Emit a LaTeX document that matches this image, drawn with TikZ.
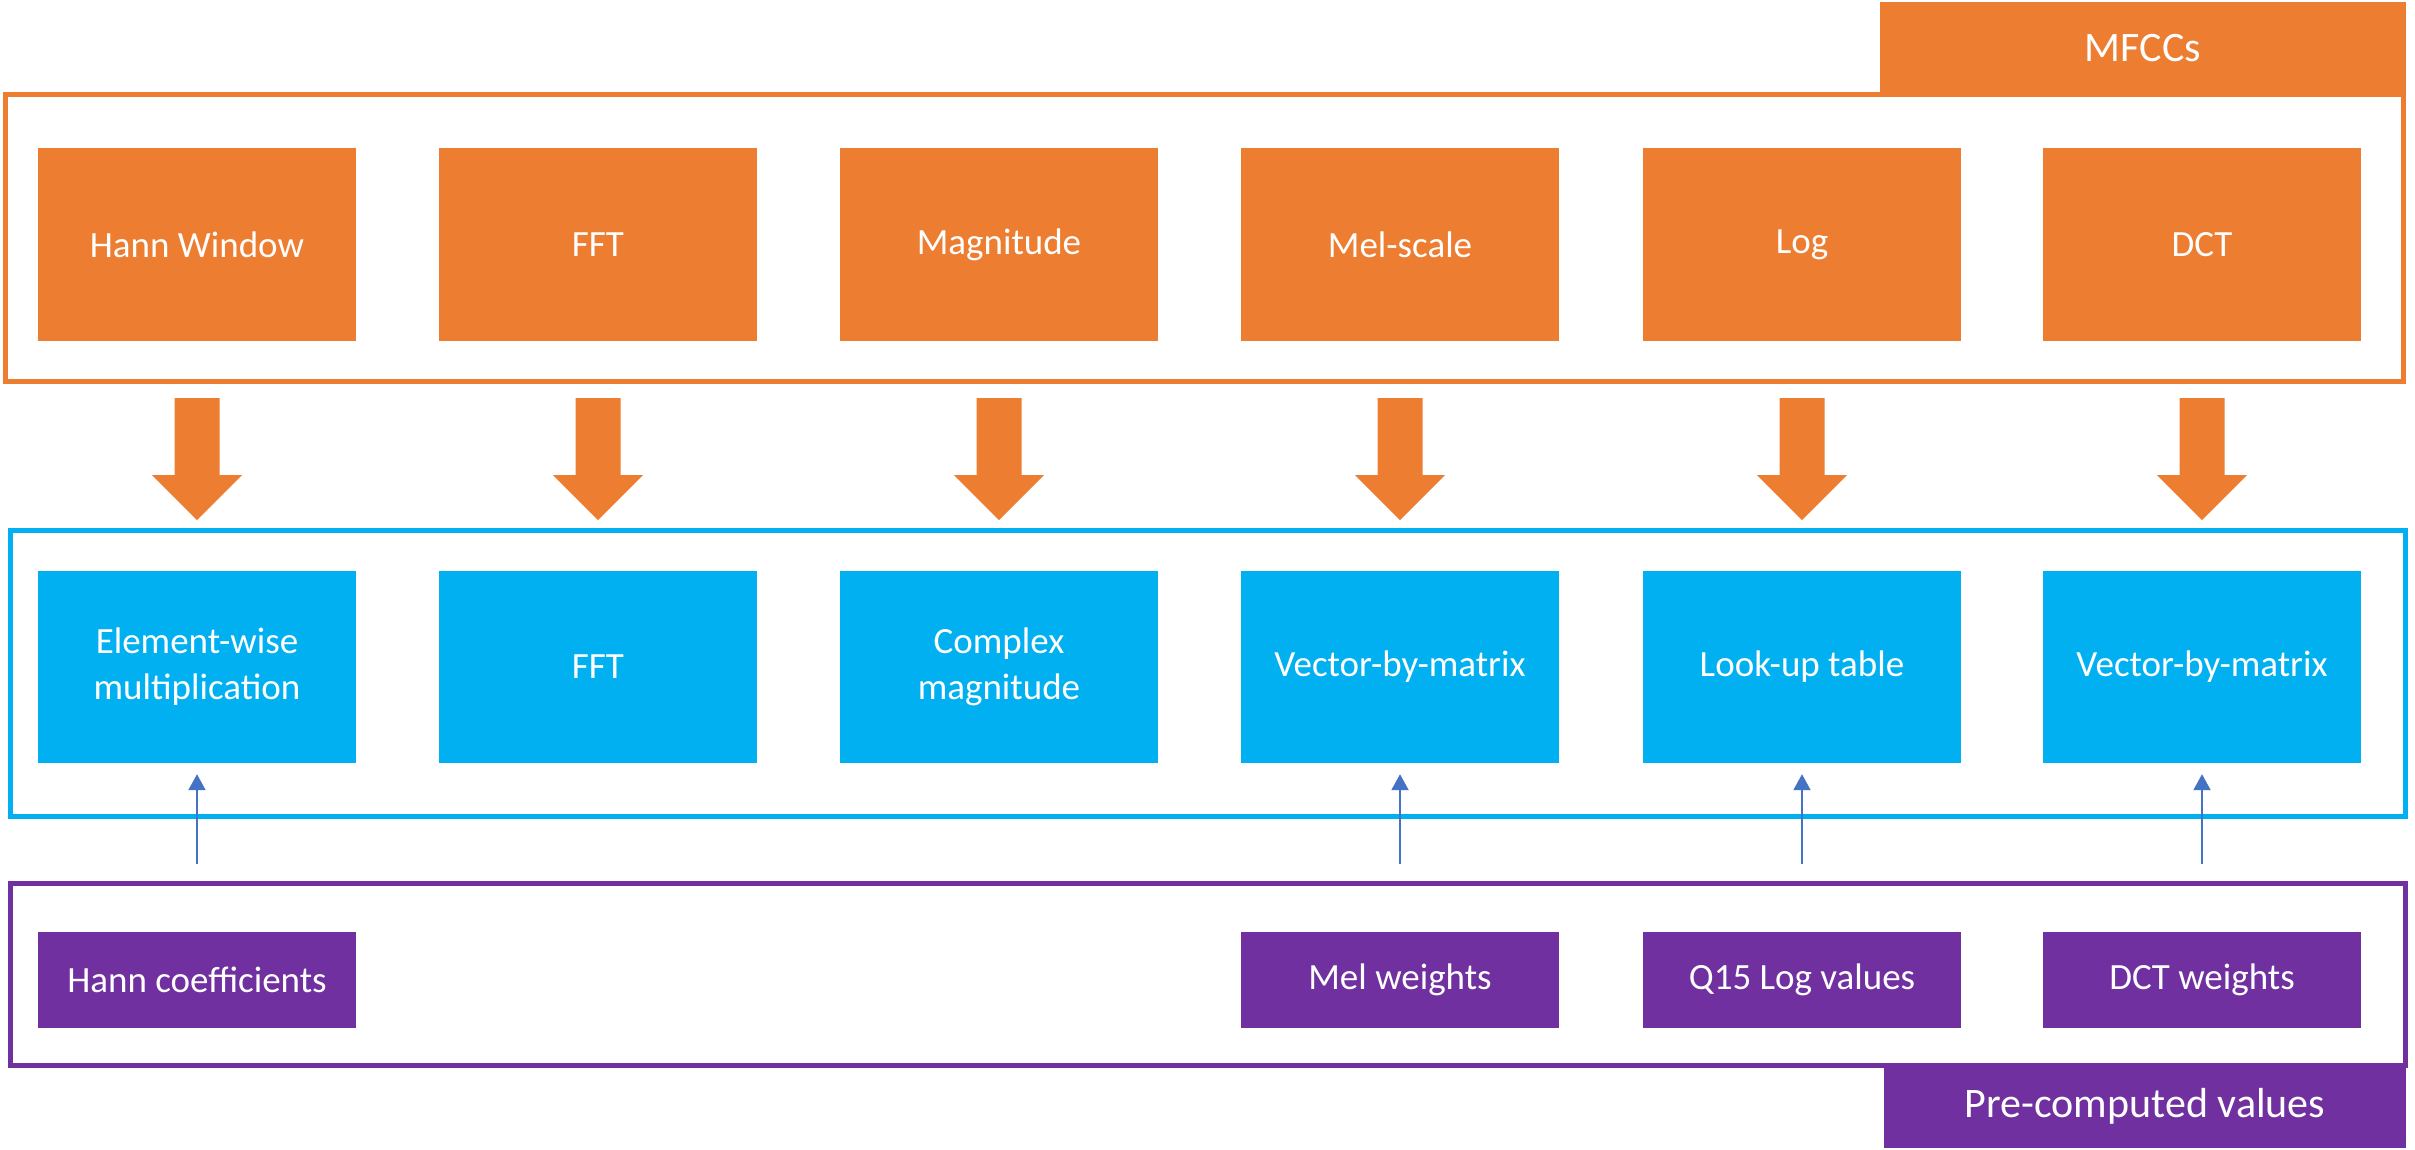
\documentclass[tikz,border=0pt]{standalone}
\usepackage{fontspec}
\setmainfont{Carlito}
\usetikzlibrary{arrows.meta,calc}
\definecolor{mfccorange}{HTML}{ED7D31}
\definecolor{opblue}{HTML}{00B0F0}
\definecolor{prepurple}{HTML}{7030A0}
\definecolor{linkblue}{HTML}{4472C4}

\begin{document}
\begin{tikzpicture}[x=1pt,y=-1pt,
  stage/.style={rectangle, inner sep=0pt, minimum width=318pt, minimum height=193pt,
    fill=mfccorange, text=white, align=center, font=\fontsize{37}{46}\selectfont},
  opbox/.style={stage, fill=opblue, minimum height=192pt},
  prebox/.style={stage, fill=prepurple, minimum height=96pt},
  groupframe/.style={rectangle, inner sep=0pt, line width=5pt},
  grouptab/.style={rectangle, inner sep=0pt, text=white, font=\fontsize{42}{50}\selectfont},
  bigarrow/.style={fill=mfccorange},
  feed/.style={draw=linkblue, line width=2pt, -{Triangle[width=17pt,length=16pt]}}
]
\useasboundingbox[fill=white] (0,0) rectangle (2415,1149);

% group tabs and frames
\node[grouptab, fill=mfccorange, minimum width=526pt, minimum height=92pt] (mfcctab) at (2143,48) {MFCCs};
\node[grouptab, fill=prepurple, minimum width=522pt, minimum height=84pt] (pretab) at (2145,1106) {Pre-computed values};
\node[groupframe, draw=mfccorange, minimum width=2398pt, minimum height=287pt] (mfccframe) at (1204.5,237.5) {};
\node[groupframe, draw=opblue, minimum width=2395pt, minimum height=286pt] (opframe) at (1208,673) {};
\node[groupframe, draw=prepurple, minimum width=2395pt, minimum height=182pt] (preframe) at (1208,974) {};

% MFCC stages
\node[stage] (hannwin) at (197,244.5) {Hann Window};
\node[stage] (fft) at (598,244.5) {FFT};
\node[stage] (mag) at (999,244.5) {Magnitude};
\node[stage] (mel) at (1400,244.5) {Mel-scale};
\node[stage] (logs) at (1802,244.5) {Log};
\node[stage] (dct) at (2202,244.5) {DCT};

% operations
\node[opbox] (elem) at (197,667) {Element-wise\\multiplication};
\node[opbox] (fftop) at (598,667) {FFT};
\node[opbox] (cmag) at (999,667) {Complex\\magnitude};
\node[opbox] (vbm1) at (1400,667) {Vector-by-matrix};
\node[opbox] (lut) at (1802,667) {Look-up table};
\node[opbox] (vbm2) at (2202,667) {Vector-by-matrix};

% pre-computed data
\node[prebox] (hannc) at (197,980) {Hann coefficients};
\node[prebox] (melw) at (1400,980) {Mel weights};
\node[prebox] (q15) at (1802,980) {Q15 Log values};
\node[prebox] (dctw) at (2202,980) {DCT weights};

% block arrows from each stage to its operation
\foreach \n in {hannwin,fft,mag,mel,logs,dct}
  \fill[bigarrow] ($(\n.south)+(-22.5,57)$) -- ++(45,0) -- ++(0,77) -- ++(22.5,0)
    -- ++(-45,45) -- ++(-45,-45) -- ++(22.5,0) -- cycle;

% data feeds
\draw[feed] ($(hannc.north)+(0,-68)$) -- ($(elem.south)+(0,11)$);
\draw[feed] ($(melw.north)+(0,-68)$) -- ($(vbm1.south)+(0,11)$);
\draw[feed] ($(q15.north)+(0,-68)$) -- ($(lut.south)+(0,11)$);
\draw[feed] ($(dctw.north)+(0,-68)$) -- ($(vbm2.south)+(0,11)$);
\end{tikzpicture}
\end{document}
